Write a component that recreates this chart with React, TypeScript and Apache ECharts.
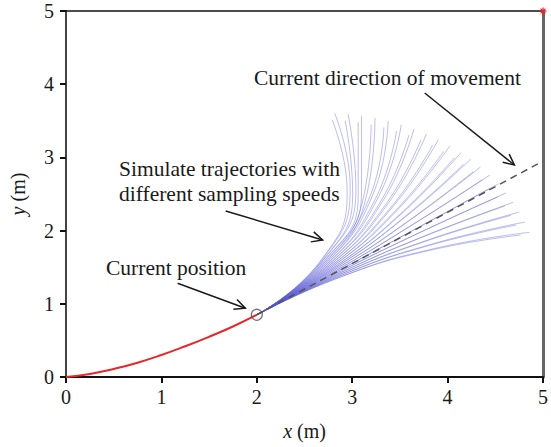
import React, { useEffect, useRef } from "react";
import * as echarts from "echarts";

// Travelled path of the robot (red)
const pathX = [0, 0.25, 0.5, 0.75, 1, 1.25, 1.5, 1.75, 2];
const pathY = [0, 0.04, 0.11, 0.195, 0.3, 0.42, 0.55, 0.69, 0.85];

// Current pose and goal
const currentPos = [2, 0.85];
const headingX = [2, 5];
const headingY = [0.85, 2.95];
const goal = [5, 5];

// Simulated trajectories (higher sampled speed)
const trajFast = [
  [[2, 0.85], [2.889, 1.374], [3.85, 1.752], [4.858, 1.976]],
  [[2, 0.85], [2.881, 1.388], [3.823, 1.812], [4.81, 2.116]],
  [[2, 0.85], [2.873, 1.402], [3.793, 1.872], [4.753, 2.253]],
  [[2, 0.85], [2.864, 1.416], [3.761, 1.929], [4.688, 2.386]],
  [[2, 0.85], [2.855, 1.43], [3.727, 1.986], [4.614, 2.515]],
  [[2, 0.85], [2.846, 1.444], [3.69, 2.04], [4.531, 2.639]],
  [[2, 0.85], [2.836, 1.457], [3.65, 2.094], [4.442, 2.758]],
  [[2, 0.85], [2.826, 1.471], [3.609, 2.145], [4.345, 2.87]],
  [[2, 0.85], [2.816, 1.484], [3.565, 2.195], [4.241, 2.976]],
  [[2, 0.85], [2.806, 1.495], [3.524, 2.238], [4.14, 3.066]],
  [[2, 0.85], [2.795, 1.508], [3.476, 2.284], [4.024, 3.158]],
  [[2, 0.85], [2.785, 1.52], [3.427, 2.327], [3.903, 3.243]],
  [[2, 0.85], [2.773, 1.532], [3.376, 2.369], [3.777, 3.319]],
  [[2, 0.85], [2.762, 1.544], [3.323, 2.408], [3.647, 3.387]],
  [[2, 0.85], [2.75, 1.556], [3.269, 2.445], [3.514, 3.445]],
  [[2, 0.85], [2.738, 1.567], [3.213, 2.48], [3.377, 3.495]],
  [[2, 0.85], [2.726, 1.578], [3.156, 2.511], [3.239, 3.536]],
  [[2, 0.85], [2.713, 1.589], [3.098, 2.541], [3.098, 3.568]],
  [[2, 0.85], [2.7, 1.6], [3.039, 2.568], [2.957, 3.59]],
  [[2, 0.85], [2.688, 1.61], [2.979, 2.592], [2.816, 3.603]],
];

// Simulated trajectories (lower sampled speed)
const trajSlow = [
  [[2, 0.85], [2.861, 1.357], [3.79, 1.723], [4.765, 1.939]],
  [[2, 0.85], [2.853, 1.371], [3.764, 1.781], [4.719, 2.075]],
  [[2, 0.85], [2.845, 1.385], [3.735, 1.839], [4.664, 2.208]],
  [[2, 0.85], [2.836, 1.398], [3.704, 1.894], [4.601, 2.337]],
  [[2, 0.85], [2.828, 1.412], [3.671, 1.949], [4.529, 2.461]],
  [[2, 0.85], [2.818, 1.425], [3.635, 2.002], [4.45, 2.581]],
  [[2, 0.85], [2.809, 1.438], [3.597, 2.053], [4.363, 2.696]],
  [[2, 0.85], [2.799, 1.451], [3.557, 2.103], [4.269, 2.805]],
  [[2, 0.85], [2.789, 1.463], [3.515, 2.151], [4.168, 2.908]],
  [[2, 0.85], [2.78, 1.474], [3.475, 2.193], [4.071, 2.995]],
  [[2, 0.85], [2.77, 1.487], [3.428, 2.238], [3.959, 3.084]],
  [[2, 0.85], [2.759, 1.498], [3.381, 2.28], [3.842, 3.165]],
  [[2, 0.85], [2.748, 1.51], [3.331, 2.32], [3.72, 3.239]],
  [[2, 0.85], [2.737, 1.521], [3.28, 2.358], [3.594, 3.305]],
  [[2, 0.85], [2.726, 1.533], [3.228, 2.394], [3.465, 3.361]],
  [[2, 0.85], [2.714, 1.544], [3.174, 2.427], [3.332, 3.41]],
  [[2, 0.85], [2.702, 1.554], [3.119, 2.458], [3.198, 3.449]],
  [[2, 0.85], [2.69, 1.565], [3.063, 2.486], [3.063, 3.48]],
  [[2, 0.85], [2.678, 1.575], [3.005, 2.512], [2.926, 3.502]],
  [[2, 0.85], [2.666, 1.585], [2.947, 2.536], [2.789, 3.514]],
];

// Annotation arrows: [fromX, fromY, toX, toY] in axis units
const arrows = [
  [1.17, 1.28, 1.88, 0.94],
  [1.674, 2.268, 2.69, 1.872],
  [3.76, 3.88, 4.7, 2.896],
];

const FONT = '"Liberation Serif", "Times New Roman", serif';
const INK = "#1a1a1a";

export default function App() {
  const ref = useRef<HTMLDivElement>(null);

  useEffect(() => {
    if (!ref.current) return;
    const chart = echarts.init(ref.current, undefined, { renderer: "svg" });

    const trajSeries = [...trajFast, ...trajSlow].map((pts) => ({
      type: "line",
      data: pts,
      smooth: true,
      showSymbol: false,
      silent: true,
      z: 3,
      lineStyle: { color: "#5a5ad6", width: 1, opacity: 0.4 },
    }));

    const labelStyle = { fontFamily: FONT, fontSize: 20, color: INK };

    chart.setOption({
      animation: false,
      grid: { left: 66, right: 3, top: 11, bottom: 70 },
      xAxis: [
        {
          type: "value",
          min: 0,
          max: 5,
          interval: 1,
          position: "bottom",
          name: "{i|x} (m)",
          nameLocation: "middle",
          nameGap: 44,
          nameTextStyle: {
            ...labelStyle,
            rich: { i: { fontFamily: FONT, fontSize: 20, fontStyle: "italic", color: INK } },
          },
          axisLine: { onZero: false, lineStyle: { color: "#111", width: 2 } },
          axisTick: { length: 6, lineStyle: { color: "#111", width: 2 } },
          axisLabel: { ...labelStyle, margin: 10 },
          splitLine: { show: false },
        },
        {
          type: "value",
          min: 0,
          max: 5,
          position: "top",
          axisLine: { onZero: false, lineStyle: { color: "#111", width: 1.5 } },
          axisTick: { show: false },
          axisLabel: { show: false },
          splitLine: { show: false },
        },
      ],
      yAxis: [
        {
          type: "value",
          min: 0,
          max: 5,
          interval: 1,
          position: "left",
          name: "{i|y} (m)",
          nameLocation: "middle",
          nameGap: 38,
          nameTextStyle: {
            ...labelStyle,
            rich: { i: { fontFamily: FONT, fontSize: 20, fontStyle: "italic", color: INK } },
          },
          axisLine: { onZero: false, lineStyle: { color: "#444", width: 2 } },
          axisTick: { length: 6, lineStyle: { color: "#111", width: 2 } },
          axisLabel: { ...labelStyle, margin: 12 },
          splitLine: { show: false },
        },
        {
          type: "value",
          min: 0,
          max: 5,
          position: "right",
          axisLine: { onZero: false, lineStyle: { color: "#666", width: 3 } },
          axisTick: { show: false },
          axisLabel: { show: false },
          splitLine: { show: false },
        },
      ],
      series: [
        ...trajSeries,
        {
          type: "line",
          data: headingX.map((x, i) => [x, headingY[i]]),
          showSymbol: false,
          silent: true,
          z: 4,
          lineStyle: { color: "#555", width: 1.5, type: [7, 5] },
        },
        {
          type: "line",
          data: pathX.map((x, i) => [x, pathY[i]]),
          smooth: true,
          showSymbol: false,
          silent: true,
          z: 5,
          lineStyle: { color: "#e8262b", width: 2 },
        },
        {
          type: "scatter",
          data: [currentPos],
          symbol: "circle",
          symbolSize: 11,
          silent: true,
          z: 6,
          itemStyle: { color: "rgba(255,255,255,0)", borderColor: "#555", borderWidth: 1.3 },
        },
        {
          type: "custom",
          data: [goal],
          clip: false,
          silent: true,
          z: 7,
          renderItem: (_p: any, api: any) => {
            const c = api.coord([api.value(0), api.value(1)]);
            const r = 3.5;
            const st = { stroke: "#e8262b", lineWidth: 1.2 };
            return {
              type: "group",
              children: [
                { type: "line", shape: { x1: c[0] - r, y1: c[1], x2: c[0] + r, y2: c[1] }, style: st },
                { type: "line", shape: { x1: c[0], y1: c[1] - r, x2: c[0], y2: c[1] + r }, style: st },
                { type: "line", shape: { x1: c[0] - r * 0.7, y1: c[1] - r * 0.7, x2: c[0] + r * 0.7, y2: c[1] + r * 0.7 }, style: st },
                { type: "line", shape: { x1: c[0] - r * 0.7, y1: c[1] + r * 0.7, x2: c[0] + r * 0.7, y2: c[1] - r * 0.7 }, style: st },
              ],
            };
          },
        },
        {
          type: "custom",
          data: arrows,
          encode: { x: [0, 2], y: [1, 3] },
          clip: false,
          silent: true,
          z: 8,
          renderItem: (_p: any, api: any) => {
            const a = api.coord([api.value(0), api.value(1)]);
            const b = api.coord([api.value(2), api.value(3)]);
            const ang = Math.atan2(b[1] - a[1], b[0] - a[0]);
            const len = 12;
            const spread = 0.45;
            const h1 = [b[0] - len * Math.cos(ang - spread), b[1] - len * Math.sin(ang - spread)];
            const h2 = [b[0] - len * Math.cos(ang + spread), b[1] - len * Math.sin(ang + spread)];
            const st = { stroke: INK, lineWidth: 1.5, fill: "none" };
            return {
              type: "group",
              children: [
                { type: "line", shape: { x1: a[0], y1: a[1], x2: b[0], y2: b[1] }, style: st },
                { type: "polyline", shape: { points: [h1, b, h2] }, style: st },
              ],
            };
          },
        },
      ],
      graphic: [
        {
          type: "text",
          x: 254,
          y: 78,
          style: { text: "Current direction of movement", font: `21.5px ${FONT}`, fill: INK, align: "left", verticalAlign: "middle" },
        },
        {
          type: "text",
          x: 119,
          y: 169,
          style: { text: "Simulate trajectories with", font: `21.5px ${FONT}`, fill: INK, align: "left", verticalAlign: "middle" },
        },
        {
          type: "text",
          x: 119,
          y: 194,
          style: { text: "different sampling speeds", font: `21.5px ${FONT}`, fill: INK, align: "left", verticalAlign: "middle" },
        },
        {
          type: "text",
          x: 106,
          y: 268,
          style: { text: "Current position", font: `21.5px ${FONT}`, fill: INK, align: "left", verticalAlign: "middle" },
        },
      ],
    });

    return () => chart.dispose();
  }, []);

  return (
    <div
      ref={ref}
      style={{ position: "fixed", left: 0, top: 0, width: 551, height: 447, background: "#fff" }}
    />
  );
}
